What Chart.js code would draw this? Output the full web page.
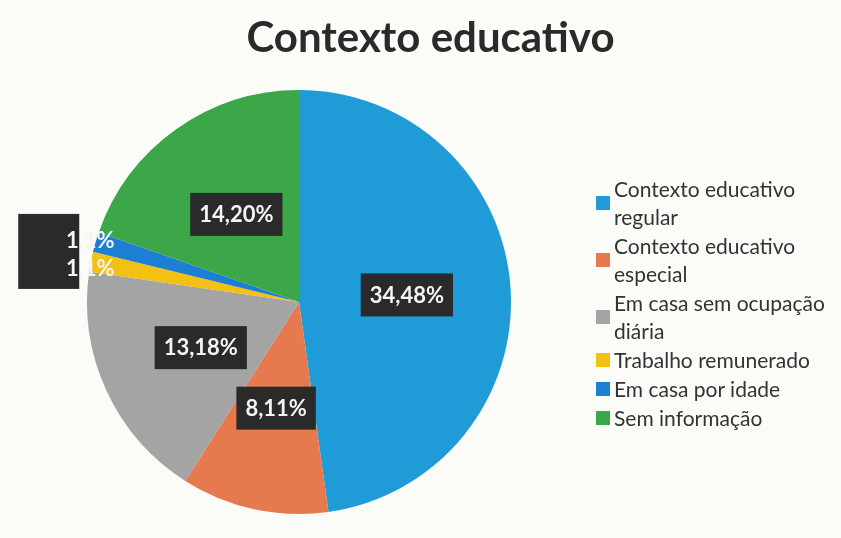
<!DOCTYPE html>
<html lang="pt">
<head>
<meta charset="UTF-8">
<title>Contexto educativo</title>
<script src="https://cdn.jsdelivr.net/npm/chart.js"></script>
<style>
  html, body { margin: 0; padding: 0; background: #fbfbf8; }
  #wrap { position: relative; width: 841px; height: 538px; overflow: hidden; }
  #title { position: absolute; left: 0; width: 861px; top: 11px; text-align: center;
           font-family: Lato, "Open Sans", sans-serif; font-weight: 700; font-size: 42px; color: #2a2a2a; }
  #legend { position: absolute; left: 596px; top: 175px; font-family: Lato, "Open Sans", sans-serif;
            font-size: 21px; line-height: 28px; color: #333; }
  .item { position: relative; padding-left: 18px; margin-bottom: 1px; }
  .sw { position: absolute; left: 0; width: 14px; height: 14px; }
</style>
</head>
<body>
<div id="wrap">
  <canvas id="pie" width="841" height="538"></canvas>
  <div id="title">Contexto educativo</div>
  <div id="legend"></div>
</div>
<script>
const categories = [
  ['Contexto educativo', 'regular'],
  ['Contexto educativo', 'especial'],
  ['Em casa sem ocupação', 'diária'],
  ['Trabalho remunerado'],
  ['Em casa por idade'],
  ['Sem informação']
];
const values = [34.48, 8.11, 13.18, 1.1, 1.1, 14.20];
const valueLabels = ['34,48%', '8,11%', '13,18%', '1,1%', '1,1%', '14,20%'];
const colors = ['#1f9bd7', '#e67a4e', '#a4a4a4', '#f2c111', '#1b7fd3', '#3ca748'];

// legenda em HTML (itens com duas linhas)
const legend = document.getElementById('legend');
categories.forEach((lines, i) => {
  const div = document.createElement('div');
  div.className = 'item';
  div.innerHTML = lines.join('<br>');
  const sw = document.createElement('span');
  sw.className = 'sw';
  sw.style.background = colors[i];
  sw.style.top = (lines.length * 28 / 2 - 7) + 'px';
  div.appendChild(sw);
  legend.appendChild(div);
});

const boxLabels = {
  id: 'boxLabels',
  afterDatasetsDraw(chart) {
    const ctx = chart.ctx;
    const meta = chart.getDatasetMeta(0);
    const total = values.reduce((a, b) => a + b, 0);
    const small = [];
    ctx.save();
    ctx.font = 'bold 22px Lato, "Open Sans", sans-serif';
    ctx.textAlign = 'center';
    ctx.textBaseline = 'middle';
    meta.data.forEach((arc, i) => {
      const mid = (arc.startAngle + arc.endAngle) / 2;
      if (values[i] / total < 0.03) {
        const r = arc.outerRadius;
        small.push({ i, x: arc.x + Math.cos(mid) * r, y: arc.y + Math.sin(mid) * r + 3 });
        return;
      }
      const r = arc.outerRadius * 0.51;
      const x = arc.x + Math.cos(mid) * r;
      const y = arc.y + Math.sin(mid) * r;
      const w = ctx.measureText(valueLabels[i]).width + 18;
      ctx.fillStyle = '#2a2a2a';
      ctx.fillRect(x - w / 2, y - 21, w, 43);
      ctx.fillStyle = '#f4f4f4';
      ctx.fillText(valueLabels[i], x, y + 1);
    });
    if (small.length) {
      // rótulos pequenos empilhados, fora da pizza
      small.sort((a, b) => a.y - b.y);
      for (let k = 1; k < small.length; k++) {
        if (small[k].y - small[k - 1].y < 28) {
          const d = (28 - (small[k].y - small[k - 1].y)) / 2;
          small[k - 1].y -= d; small[k].y += d;
        }
      }
      const sx = small.reduce((a, s) => a + s.x, 0) / small.length - 3;
      const top = small[0].y, bot = small[small.length - 1].y;
      ctx.fillStyle = '#2a2a2a';
      ctx.fillRect(sx - 72, top - 27, 61, bot - top + 47);
      ctx.fillStyle = '#f4f4f4';
      small.forEach(s => ctx.fillText(valueLabels[s.i], sx, s.y));
    }
    ctx.restore();
  }
};

new Chart(document.getElementById('pie'), {
  type: 'pie',
  data: {
    labels: categories.map(l => l.join(' ')),
    datasets: [{
      data: values,
      backgroundColor: colors,
      borderWidth: 0
    }]
  },
  options: {
    responsive: false,
    animation: false,
    layout: { padding: { left: 87, right: 330, top: 90, bottom: 24 } },
    plugins: {
      legend: { display: false },
      title: { display: false },
      tooltip: { enabled: false }
    }
  },
  plugins: [boxLabels]
});
</script>
</body>
</html>
